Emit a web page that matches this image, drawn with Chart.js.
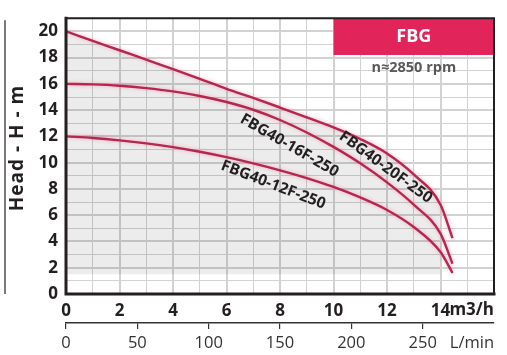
<!DOCTYPE html>
<html><head><meta charset="utf-8">
<script src="https://cdn.jsdelivr.net/npm/chart.js@4.4.0/dist/chart.umd.min.js"></script>
<style>html,body{margin:0;padding:0;background:#fff;}</style>
</head><body>
<canvas id="c" width="507" height="355" style="width:507px;height:355px;display:block"></canvas>
<script>
// ---- data ----
const flowM3h = [0, 1, 2, 3, 4, 5, 6, 7, 8, 9, 10, 11, 12, 13, 14, 14.45];
const head20F = [20, 19.28, 18.56, 17.84, 17.12, 16.38, 15.62, 14.93, 14.2, 13.45, 12.68, 11.8, 10.7, 9.1, 6.8, 4.25];
const head16F = [16, 15.96, 15.86, 15.68, 15.43, 15.08, 14.62, 14.03, 13.25, 12.3, 11.2, 9.95, 8.5, 6.8, 4.6, 2.3];
const head12F = [12, 11.88, 11.7, 11.47, 11.18, 10.83, 10.42, 9.95, 9.42, 8.83, 8.15, 7.35, 6.4, 5.1, 3.2, 1.6];
const seriesNames = ['FBG40-20F-250', 'FBG40-16F-250', 'FBG40-12F-250'];
const xTickValues = [0, 2, 4, 6, 8, 10, 12, 14];
const yTickValues = [0, 2, 4, 6, 8, 10, 12, 14, 16, 18, 20];
const lminTickValues = [0, 50, 100, 150, 200, 250];
const shadedFloor = 1.5;
const shadedMaxFlow = 14;

const FONT = "'Open Sans', 'DejaVu Sans', sans-serif";
const LINE = '#b5274f';
const DARK = '#231f20';

const pts = (ys) => flowM3h.map((x, i) => ({ x, y: ys[i] }));
const shaded = flowM3h.map((x, i) => ({ x, y: head20F[i] })).filter(p => p.x <= shadedMaxFlow);

const lineDs = (label, ys) => ({
  label, data: pts(ys), borderColor: LINE, borderWidth: 2.4, pointRadius: 0,
  cubicInterpolationMode: 'monotone', fill: false, glow: true, order: 1
});

const decor = {
  id: 'decor',
  beforeDatasetDraw(chart, args) {
    const ds = chart.data.datasets[args.index];
    if (ds.glow) {
      const ctx = chart.ctx; ctx.save();
      ctx.shadowColor = 'rgba(235,110,140,0.55)'; ctx.shadowBlur = 4;
    }
  },
  afterDatasetDraw(chart, args) {
    const ds = chart.data.datasets[args.index];
    if (ds.glow) chart.ctx.restore();
  },
  afterDatasetsDraw(chart) {
    const { ctx, chartArea: a, scales } = chart;
    const X = v => scales.x.getPixelForValue(v), Y = v => scales.y.getPixelForValue(v);
    ctx.save();
    // header box
    const bx0 = X(10), bx1 = X(16), by0 = Y(21), by1 = Y(18.2);
    ctx.fillStyle = '#e1245a';
    ctx.fillRect(bx0, by0, bx1 - bx0, by1 - by0);
    ctx.fillStyle = '#fff'; ctx.font = `bold 18px ${FONT}`;
    ctx.textAlign = 'center'; ctx.textBaseline = 'middle';
    ctx.fillText('FBG', (bx0 + bx1) / 2, (by0 + by1) / 2);
    ctx.fillStyle = '#58595b'; ctx.font = `bold 14.5px ${FONT}`;
    ctx.fillText('n\u22482850 rpm', X(13), Y(17.2));
    // curve labels
    const labels = [
      [seriesNames[0], 11.95, 9.65, 36],
      [seriesNames[1], 8.35, 11.3, 30],
      [seriesNames[2], 7.75, 8.3, 21]
    ];
    ctx.fillStyle = DARK; ctx.font = `bold 15.5px ${FONT}`;
    for (const [t, x, y, r] of labels) {
      ctx.save(); ctx.translate(X(x), Y(y)); ctx.rotate(r * Math.PI / 180);
      ctx.fillText(t, 0, 0); ctx.restore();
    }
    // frame
    ctx.strokeStyle = DARK; ctx.lineCap = 'square';
    ctx.lineWidth = 2; ctx.beginPath(); ctx.moveTo(a.left, a.top); ctx.lineTo(a.right, a.top); ctx.lineTo(a.right, a.bottom); ctx.stroke();
    ctx.lineWidth = 3; ctx.beginPath(); ctx.moveTo(a.left, a.top); ctx.lineTo(a.left, a.bottom); ctx.lineTo(a.right, a.bottom); ctx.stroke();
    ctx.restore();
  },
  afterDraw(chart) {
    const { ctx, chartArea: a } = chart;
    ctx.save();
    // left rule
    ctx.strokeStyle = DARK; ctx.lineWidth = 1.2;
    ctx.beginPath(); ctx.moveTo(5, a.top + 2); ctx.lineTo(5, a.bottom); ctx.stroke();
    // y title
    ctx.fillStyle = DARK; ctx.font = `bold 19px ${FONT}`;
    try { ctx.letterSpacing = '1px'; } catch (e) {}
    ctx.textAlign = 'center'; ctx.textBaseline = 'middle';
    ctx.translate(18, 148); ctx.rotate(-Math.PI / 2);
    ctx.fillText('Head - H - m', 0, 0);
    ctx.restore();
    ctx.save();
    ctx.textAlign = 'right'; ctx.textBaseline = 'middle';
    ctx.fillStyle = DARK; ctx.font = `bold 17px ${FONT}`;
    ctx.fillText('m3/h', a.right, 310);
    ctx.fillStyle = '#333'; ctx.font = `16.5px ${FONT}`;
    ctx.fillText('L/min', a.right, 343);
    ctx.restore();
  }
};

new Chart(document.getElementById('c'), {
  type: 'line',
  data: {
    datasets: [
      { label: 'shade', data: shaded, borderWidth: 0, pointRadius: 0, cubicInterpolationMode: 'monotone',
        fill: { value: shadedFloor }, backgroundColor: 'rgba(0,0,0,0.075)', order: 2 },
      lineDs(seriesNames[0], head20F),
      lineDs(seriesNames[1], head16F),
      lineDs(seriesNames[2], head12F)
    ]
  },
  options: {
    responsive: false, animation: false, devicePixelRatio: 1,
    layout: { padding: { left: 0, right: 13, top: 15, bottom: 0 } },
    plugins: { legend: { display: false }, tooltip: { enabled: false } },
    scales: {
      x: {
        type: 'linear', position: 'bottom', weight: 0, min: 0, max: 16,
        afterFit: s => { s.height = 29; },
        ticks: { stepSize: 1, autoSkip: false, maxRotation: 0, padding: 7,
          callback: v => xTickValues.includes(v) ? String(v) : '',
          font: { family: FONT, size: 17, weight: 'bold' }, color: DARK },
        grid: { drawTicks: false, color: '#d2d2d2',
          lineWidth: c => (c.tick && c.tick.value % 2 === 0) ? 2 : 1 },
        border: { display: false }
      },
      x2: {
        type: 'linear', position: 'bottom', weight: 1, min: 0, max: 300,
        afterFit: s => { s.height = 32; },
        afterBuildTicks: s => { s.ticks = lminTickValues.map(v => ({ value: v })); },
        ticks: { autoSkip: false, maxRotation: 0, padding: 4,
          font: { family: FONT, size: 16.5 }, color: '#333' },
        grid: { drawOnChartArea: false, drawTicks: true, tickLength: 6, color: '#333', lineWidth: 1.2 },
        border: { display: true, color: '#333', width: 1.5 }
      },
      y: {
        type: 'linear', position: 'left', min: 0, max: 21,
        afterFit: s => { s.width = 66; },
        ticks: { stepSize: 1, autoSkip: false, padding: 8,
          callback: v => yTickValues.includes(v) ? String(v) : '',
          font: { family: FONT, size: 17, weight: 'bold' }, color: DARK },
        grid: { drawTicks: false, color: '#d2d2d2',
          lineWidth: c => (c.tick && c.tick.value % 2 === 0) ? 2 : 1 },
        border: { display: false }
      }
    }
  },
  plugins: [decor]
});
</script>
</body></html>
